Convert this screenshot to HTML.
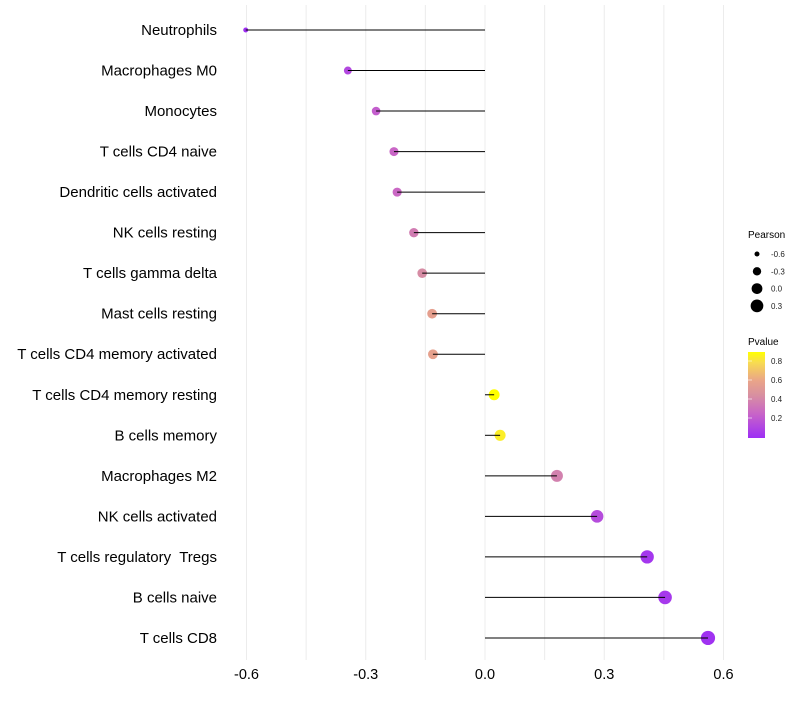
<!DOCTYPE html>
<html><head><meta charset="utf-8"><style>
html,body{margin:0;padding:0;background:#fff;}
svg text{font-family:"Liberation Sans",sans-serif;white-space:pre;}
</style></head><body>
<svg id="chart" width="800" height="700" viewBox="0 0 800 700" xmlns="http://www.w3.org/2000/svg">
<defs><linearGradient id="pg" x1="0" y1="1" x2="0" y2="0">
<stop offset="0" stop-color="#9d2ef5"/><stop offset="0.28" stop-color="#c864c8"/><stop offset="0.5" stop-color="#d890a0"/><stop offset="0.67" stop-color="#eaa588"/><stop offset="0.88" stop-color="#f8dc50"/><stop offset="1" stop-color="#ffff00"/></linearGradient></defs>
<g id="grid"></g>
<g id="marks"></g>
<g id="labels"></g>
<g>
<text x="748" y="238" font-size="10" fill="#000">Pearson</text>
<g id="sizeLegend"></g>
<text x="748" y="345" font-size="10" fill="#000">Pvalue</text>
<rect x="748" y="352" width="17" height="86" fill="url(#pg)"/>
<g id="cbTicks"></g>
</g>
</svg>
<script>
const categories=["Neutrophils","Macrophages M0","Monocytes","T cells CD4 naive","Dendritic cells activated","NK cells resting","T cells gamma delta","Mast cells resting","T cells CD4 memory activated","T cells CD4 memory resting","B cells memory","Macrophages M2","NK cells activated","T cells regulatory  Tregs","B cells naive","T cells CD8"];
const pearson=[-0.602,-0.345,-0.274,-0.229,-0.221,-0.179,-0.158,-0.133,-0.131,0.023,0.038,0.181,0.282,0.408,0.453,0.561];
const pvalues=[0.01,0.12,0.22,0.26,0.27,0.36,0.43,0.56,0.57,0.92,0.86,0.38,0.14,0.04,0.05,0.02];
const xTicks=[-0.6,-0.3,0.0,0.3,0.6];
const xTickLabels=["-0.6","-0.3","0.0","0.3","0.6"];
const sizeLegendVals=[-0.6,-0.3,0.0,0.3];
const cbTickVals=[0.2,0.4,0.6,0.8];

const NS="http://www.w3.org/2000/svg";
const X=v=>485+v*397.5;
const Y=i=>30+i*40.53;
const R=v=>Math.sqrt(Math.max(1,29+38*v));
const stops=[[0,[157,46,245]],[0.25,[200,100,200]],[0.45,[216,144,160]],[0.6,[234,165,136]],[0.8,[248,220,80]],[0.92,[255,255,0]]];
function col(p){if(p<=stops[0][0])return rgb(stops[0][1]);
for(let i=1;i<stops.length;i++){if(p<=stops[i][0]){const [a,ca]=stops[i-1],[b,cb]=stops[i];const t=(p-a)/(b-a);return rgb(ca.map((c,k)=>c+(cb[k]-c)*t));}}
return rgb(stops[stops.length-1][1]);}
function rgb(c){return "rgb("+c.map(Math.round).join(",")+")";}
function mk(tag,attrs,parent){const e=document.createElementNS(NS,tag);for(const k in attrs)e.setAttribute(k,attrs[k]);parent.appendChild(e);return e;}
const grid=document.getElementById('grid'),marks=document.getElementById('marks'),labels=document.getElementById('labels');
for(let v=-0.6;v<=0.61;v+=0.15){const gl=mk('line',{x1:X(v),x2:X(v),y1:5,y2:660,stroke:'#ececec','stroke-width':1},grid);

}
xTicks.forEach((v,i)=>{const t=mk('text',{x:X(v),y:679,'font-size':14.5,'text-anchor':'middle',fill:'#000'},labels);t.textContent=xTickLabels[i];

});
categories.forEach((c,i)=>{const y=Y(i);
const t=mk('text',{x:217,y:y+5,'font-size':15,'text-anchor':'end',fill:'#000'},labels);t.textContent=c;


const d=mk('circle',{cx:X(pearson[i]),cy:y,r:R(pearson[i]),fill:col(pvalues[i])},marks);


const l=mk('line',{x1:X(0),x2:X(pearson[i]),y1:y,y2:y,stroke:'#000','stroke-width':1},marks);

});
const sl=document.getElementById('sizeLegend');
sizeLegendVals.forEach((v,i)=>{const y=254+i*17.3;
const c=mk('circle',{cx:757,cy:y,r:R(v),fill:'#000'},sl);


const t=mk('text',{x:771,y:y+3,'font-size':8,fill:'#222'},sl);t.textContent=v.toFixed(1);

});
const cb=document.getElementById('cbTicks');
cbTickVals.forEach(v=>{const y=437-v*95;
const t=mk('text',{x:771,y:y+3,'font-size':8,fill:'#222'},cb);t.textContent=v.toFixed(1);


const ln=mk('line',{x1:748,x2:752,y1:y,y2:y,stroke:'#fff','stroke-width':0.6},cb);

});
</script>
</body></html>
